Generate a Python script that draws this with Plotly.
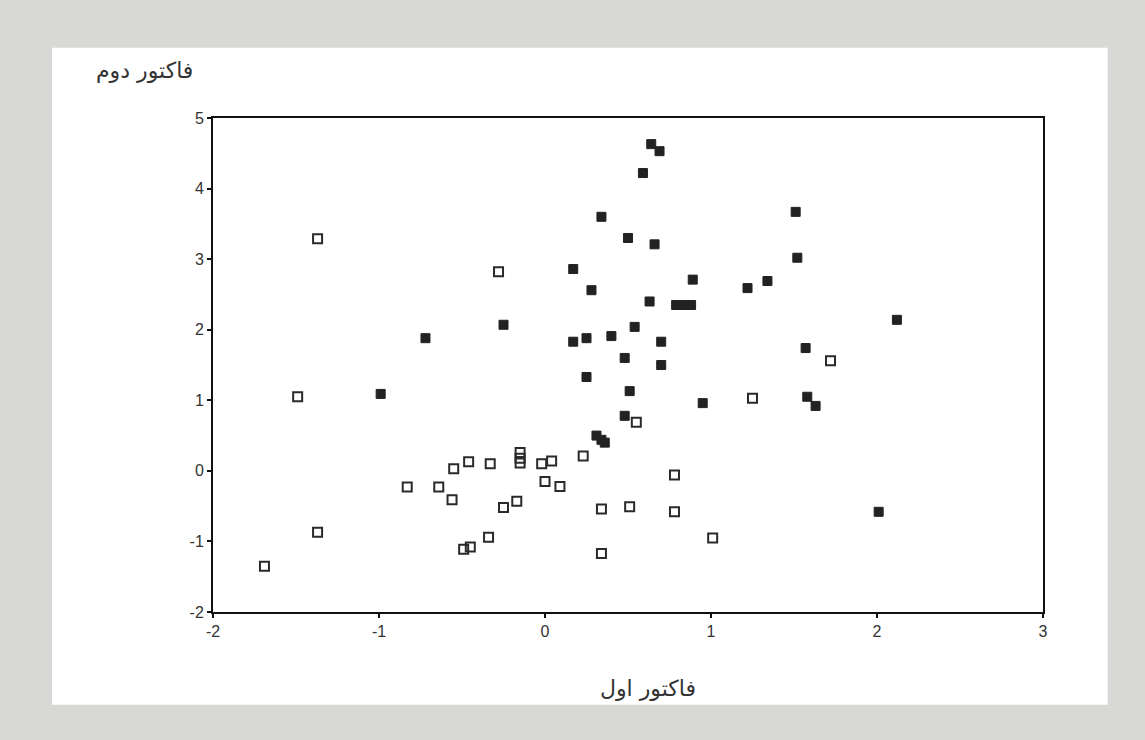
import plotly.graph_objects as go

# Filled squares (group 1)
filled_x = [0.64, 0.69, 0.59, 0.34, 0.50, 0.66, 0.17, 0.28, 1.51, 1.52, 1.34, 1.22, 0.89,
            0.63, 0.79, 0.84, 0.88, -0.25, -0.72, 0.25, 0.17, 0.40, 0.54, 0.70, 0.48,
            0.70, 0.25, 0.51, -0.99, 0.95, 1.57, 2.12, 1.58, 1.63, 0.48, 0.31, 0.34,
            0.36, 2.01]
filled_y = [4.63, 4.53, 4.22, 3.60, 3.30, 3.21, 2.86, 2.56, 3.67, 3.02, 2.69, 2.59, 2.71,
            2.40, 2.35, 2.35, 2.35, 2.07, 1.88, 1.88, 1.83, 1.91, 2.04, 1.83, 1.60,
            1.50, 1.33, 1.13, 1.09, 0.96, 1.74, 2.14, 1.05, 0.92, 0.78, 0.50, 0.44,
            0.40, -0.58]

# Open squares (group 2)
open_x = [-1.37, -1.49, -0.28, -1.37, -1.69, -0.83, -0.64, -0.56, -0.55, -0.46, -0.33,
          -0.25, -0.17, -0.15, -0.15, -0.15, -0.02, 0.04, 0.00, 0.09, 0.23, -0.49,
          -0.45, -0.34, 0.34, 0.34, 0.51, 0.55, 0.78, 0.78, 1.01, 1.25, 1.72]
open_y = [3.29, 1.05, 2.82, -0.87, -1.35, -0.23, -0.23, -0.41, 0.03, 0.13, 0.10,
          -0.52, -0.43, 0.26, 0.18, 0.11, 0.10, 0.14, -0.15, -0.22, 0.21, -1.11,
          -1.08, -0.94, -0.54, -1.17, -0.51, 0.69, -0.06, -0.58, -0.95, 1.03, 1.56]

x_ticks = [-2, -1, 0, 1, 2, 3]
y_ticks = [-2, -1, 0, 1, 2, 3, 4, 5]
x_title = "فاکتور اول"
y_title = "فاکتور دوم"

fig = go.Figure()
fig.add_trace(go.Scatter(
    x=filled_x, y=filled_y, mode="markers",
    marker=dict(symbol="square", size=9, color="#222222",
                line=dict(color="#222222", width=1)),
    showlegend=False, cliponaxis=False))
fig.add_trace(go.Scatter(
    x=open_x, y=open_y, mode="markers",
    marker=dict(symbol="square-open", size=9, color="#2a2a2a",
                line=dict(color="#2a2a2a", width=2)),
    showlegend=False, cliponaxis=False))

axis_common = dict(
    showgrid=False, zeroline=False, showline=True, linecolor="#111111", linewidth=2,
    mirror=True, ticks="outside", ticklen=4, tickwidth=2, tickcolor="#111111",
    tickfont=dict(family="Liberation Sans, Arial, sans-serif", size=16, color="#333333"),
)

fig.update_layout(
    width=1145, height=740,
    paper_bgcolor="#d8d8d6", plot_bgcolor="#ffffff",
    margin=dict(l=213, r=102, t=118, b=128),
    xaxis=dict(range=[-2, 3], tickvals=x_ticks, ticktext=[str(v) for v in x_ticks], **axis_common),
    yaxis=dict(range=[-2, 5], tickvals=y_ticks, ticktext=[str(v) for v in y_ticks], **axis_common),
    shapes=[dict(type="rect", xref="paper", yref="paper",
                 x0=-0.194, x1=1.078, y0=-0.188, y1=1.142,
                 fillcolor="#ffffff", line=dict(width=0), layer="below")],
    annotations=[
        dict(text=y_title, xref="paper", yref="paper", x=-0.082, y=1.097,
             xanchor="center", yanchor="middle",
             showarrow=False, font=dict(family="DejaVu Sans", size=22, color="#333333")),
        dict(text=x_title, xref="paper", yref="paper", x=0.524, y=-0.154,
             xanchor="center", yanchor="middle",
             showarrow=False, font=dict(family="DejaVu Sans", size=22, color="#333333")),
    ],
)

fig.write_html(
    "out.html",
    config={"displayModeBar": False},
    post_script="document.body.style.margin='0';document.body.style.background='#d8d8d6';",
)
